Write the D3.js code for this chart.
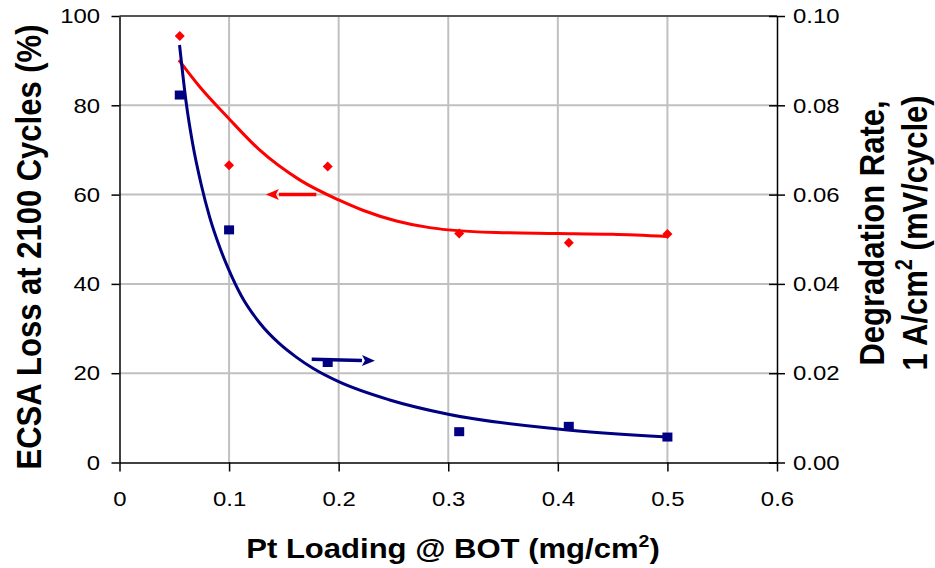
<!DOCTYPE html>
<html>
<head>
<meta charset="utf-8">
<script src="https://cdn.jsdelivr.net/npm/d3@7"></script>
<style>
  html, body { margin: 0; padding: 0; background: #fff; }
  svg { display: block; font-family: "Liberation Sans", Arial, sans-serif; }
</style>
</head>
<body>
<svg id="chart" width="935" height="568"></svg>
<script>
// ---- data ----
const ptLoading = [0.055, 0.1, 0.19, 0.31, 0.41, 0.5];
const ecsaLoss  = [95.5, 66.6, 66.3, 51.3, 49.2, 51.2];          // left axis (%)
const degRate   = [0.0823, 0.0521, 0.0224, 0.0069, 0.0081, 0.0057]; // right axis (mV/cycle)

// trend lines
const ecsaTrendX = [0.0542, 0.073, 0.0995, 0.1278, 0.1644, 0.2, 0.222, 0.2527, 0.283, 0.3, 0.344, 0.4, 0.45, 0.5];
const ecsaTrendY = [90.1, 84.2, 77.1, 70.0, 63.3, 58.8, 56.5, 54.1, 52.6, 52.1, 51.5, 51.3, 51.1, 50.6];
const rateTrendX = [0.0548, 0.0609, 0.0669, 0.0746, 0.0822, 0.0913, 0.0995, 0.111, 0.1278, 0.146, 0.1613, 0.1765, 0.2, 0.2466, 0.3, 0.4, 0.5];
const rateTrendY = [0.0935, 0.0805, 0.0712, 0.0622, 0.0550, 0.0483, 0.0433, 0.0374, 0.0313, 0.0266, 0.0236, 0.0211, 0.0181, 0.0140, 0.0108, 0.0075, 0.0057];

// annotation arrows
const redArrowX  = [0.1796, 0.1336];
const redArrowY  = [60, 60];
const blueArrowX = [0.1754, 0.2331];
const blueArrowY = [0.0231, 0.0228];

// ticks
const xTicks = [0, 0.1, 0.2, 0.3, 0.4, 0.5, 0.6];
const xTickLabels = ["0", "0.1", "0.2", "0.3", "0.4", "0.5", "0.6"];
const yLeftTicks = [0, 20, 40, 60, 80, 100];
const yLeftLabels = ["0", "20", "40", "60", "80", "100"];
const yRightTicks = [0, 0.02, 0.04, 0.06, 0.08, 0.10];
const yRightLabels = ["0.00", "0.02", "0.04", "0.06", "0.08", "0.10"];

// ---- layout ----
const L = 119.5, R = 777, T = 16, B = 462.5;
const RED = "#ff0000", BLUE = "#000080";
const SX = 1.14; // horizontal stretch of text in the reference

const svg = d3.select("#chart");
const x = d3.scaleLinear().domain([0, 0.6]).range([L, R]);
const yL = d3.scaleLinear().domain([0, 100]).range([B, T]);
const yR = d3.scaleLinear().domain([0, 0.10]).range([B, T]);

// gridlines
const grid = svg.append("g");
grid.selectAll("line.h").data(yLeftTicks.filter(d => d > 0 && d < 100)).join("line")
  .attr("x1", L).attr("x2", R).attr("y1", d => yL(d)).attr("y2", d => yL(d))
  .attr("stroke", "#c0c0c0").attr("stroke-width", 2);
grid.selectAll("line.v").data(xTicks.filter(d => d > 0 && d < 0.6)).join("line")
  .attr("y1", T).attr("y2", B).attr("x1", d => x(d)).attr("x2", d => x(d))
  .attr("stroke", "#c0c0c0").attr("stroke-width", 2);
// top border
svg.append("line").attr("x1", L).attr("x2", R).attr("y1", yL(100)).attr("y2", yL(100))
  .attr("stroke", "#555").attr("stroke-width", 2);

// axes
function styleAxis(g) {
  g.selectAll("path.domain").attr("stroke", "#000").attr("stroke-width", 1.5);
  g.selectAll(".tick line").attr("stroke", "#000").attr("stroke-width", 1.5);
  g.selectAll(".tick text").attr("fill", "#000").attr("font-size", 21)
    .attr("font-family", "Liberation Sans, Arial, sans-serif")
    .attr("transform", `scale(${SX},1)`);
}
const xAxis = svg.append("g").attr("transform", `translate(0,${B})`)
  .call(d3.axisBottom(x).tickValues(xTicks).tickFormat((d, i) => xTickLabels[i]).tickSizeInner(9).tickSizeOuter(0).tickPadding(20));
styleAxis(xAxis);
const yAxisL = svg.append("g").attr("transform", `translate(${L},0)`)
  .call(d3.axisLeft(yL).tickValues(yLeftTicks).tickFormat((d, i) => yLeftLabels[i]).tickSizeInner(8).tickSizeOuter(0).tickPadding(9));
styleAxis(yAxisL);
const yAxisR = svg.append("g").attr("transform", `translate(${R},0)`)
  .call(d3.axisRight(yR).tickValues(yRightTicks).tickFormat((d, i) => yRightLabels[i]).tickSizeInner(8).tickSizeOuter(0).tickPadding(6));
styleAxis(yAxisR);
yAxisR.selectAll(".tick line").attr("x1", -8).attr("x2", 8);

// trend lines
const lineL = d3.line().x(d => x(d[0])).y(d => yL(d[1])).curve(d3.curveMonotoneX);
const lineR = d3.line().x(d => x(d[0])).y(d => yR(d[1])).curve(d3.curveMonotoneX);
svg.append("path").datum(ecsaTrendX.map((v, i) => [v, ecsaTrendY[i]]))
  .attr("d", lineL).attr("fill", "none").attr("stroke", RED).attr("stroke-width", 3);
svg.append("path").datum(rateTrendX.map((v, i) => [v, rateTrendY[i]]))
  .attr("d", lineR).attr("fill", "none").attr("stroke", BLUE).attr("stroke-width", 3);

// markers
svg.append("g").selectAll("path").data(ptLoading.map((v, i) => [v, ecsaLoss[i]])).join("path")
  .attr("transform", d => `translate(${x(d[0])},${yL(d[1])})`)
  .attr("d", "M0,-5L5,0L0,5L-5,0Z").attr("fill", RED);
svg.append("g").selectAll("rect").data(ptLoading.map((v, i) => [v, degRate[i]])).join("rect")
  .attr("x", d => x(d[0]) - 5).attr("y", d => yR(d[1]) - 4.5)
  .attr("width", 10).attr("height", 9).attr("fill", BLUE);

// arrows
function arrow(x0, y0, x1, y1, color) {
  const ang = Math.atan2(y1 - y0, x1 - x0);
  const hl = 13, hw = 5.5;
  const bx = x1 - hl * Math.cos(ang), by = y1 - hl * Math.sin(ang);
  svg.append("line").attr("x1", x0).attr("y1", y0).attr("x2", bx).attr("y2", by)
    .attr("stroke", color).attr("stroke-width", 3.5);
  const px = -Math.sin(ang) * hw, py = Math.cos(ang) * hw;
  svg.append("path")
    .attr("d", `M${x1},${y1}L${bx + px},${by + py}L${bx + 3 * Math.cos(ang)},${by + 3 * Math.sin(ang)}L${bx - px},${by - py}Z`)
    .attr("fill", color);
}
arrow(x(redArrowX[0]), yL(redArrowY[0]), x(redArrowX[1]), yL(redArrowY[1]), RED);
arrow(x(blueArrowX[0]), yR(blueArrowY[0]), x(blueArrowX[1]), yR(blueArrowY[1]), BLUE);

// axis titles
const xt = svg.append("text").attr("transform", `translate(453,558) scale(1.15,1)`)
  .attr("text-anchor", "middle").attr("font-size", 27).attr("font-weight", "bold").attr("fill", "#000");
xt.append("tspan").text("Pt Loading @ BOT (mg/cm");
xt.append("tspan").attr("font-size", 17).attr("dy", -11).text("2");
xt.append("tspan").attr("dy", 11).text(")");

svg.append("text").attr("transform", `translate(41,247) scale(1.15,1) rotate(-90)`)
  .attr("text-anchor", "middle").attr("font-size", 31).attr("font-weight", "bold").attr("fill", "#000")
  .text("ECSA Loss at 2100 Cycles (%)");

svg.append("text").attr("transform", `translate(884,233) scale(1.15,1) rotate(-90)`)
  .attr("text-anchor", "middle").attr("font-size", 31).attr("font-weight", "bold").attr("fill", "#000")
  .text("Degradation Rate,");
const r2 = svg.append("text").attr("transform", `translate(927,233) scale(1.15,1) rotate(-90)`)
  .attr("text-anchor", "middle").attr("font-size", 31).attr("font-weight", "bold").attr("fill", "#000");
r2.append("tspan").text("1 A/cm");
r2.append("tspan").attr("font-size", 20).attr("dy", -13).text("2");
r2.append("tspan").attr("dy", 13).text(" (mV/cycle)");
</script>
</body>
</html>
